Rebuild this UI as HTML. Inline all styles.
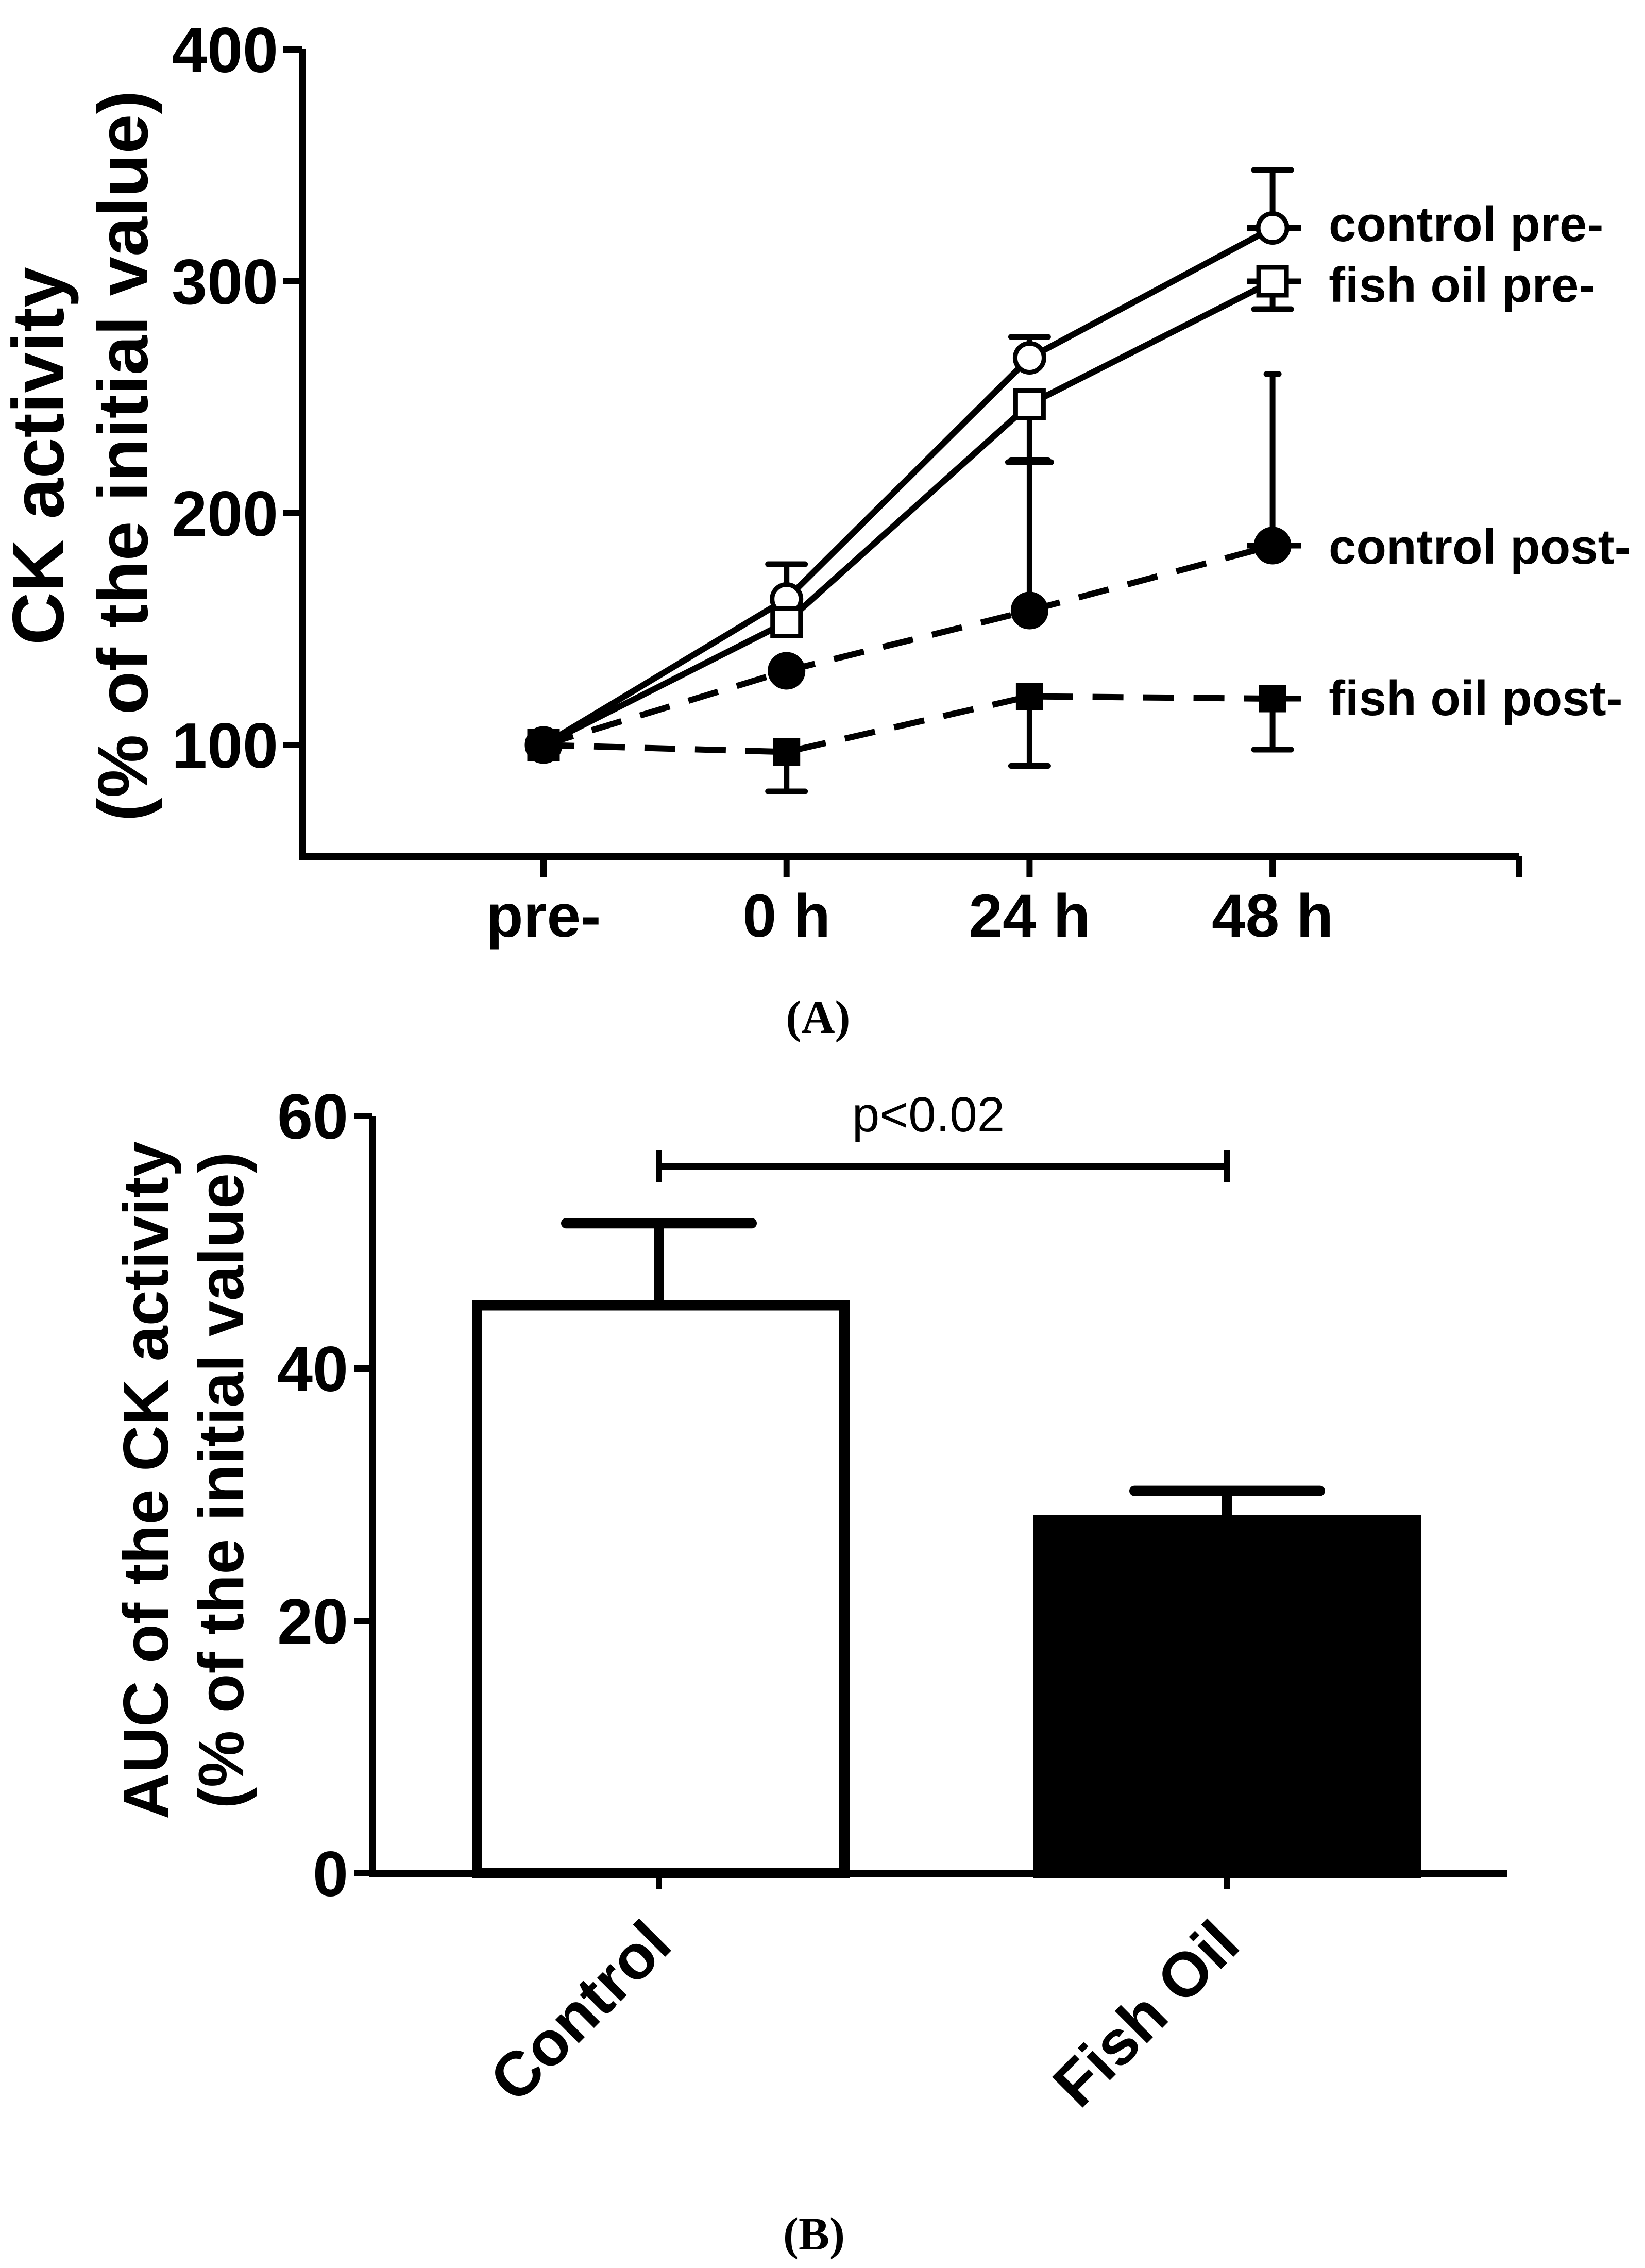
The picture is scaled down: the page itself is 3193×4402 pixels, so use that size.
<!DOCTYPE html>
<html><head><meta charset="utf-8"><style>
html,body{margin:0;padding:0;background:#fff;}
svg{display:block;font-family:"Liberation Sans",Arial,sans-serif;}
</style></head><body>
<svg id="fig" width="3193" height="4402" viewBox="0 0 3193 4402" xmlns="http://www.w3.org/2000/svg">
<g id="chartA"></g>
<g id="chartB"></g>
<text x="1588" y="2004" font-family="Liberation Serif,serif" font-weight="bold" font-size="90" text-anchor="middle">(A)</text>
<text x="1580" y="4366" font-family="Liberation Serif,serif" font-weight="bold" font-size="90" text-anchor="middle">(B)</text>
</svg>
<script>
// ---------- Chart A data ----------
const timeLabels = ["pre-", "0 h", "24 h", "48 h"];
const yTicksA = [100, 200, 300, 400];
const ctrlPre = [100, 163, 267, 323];
const ctrlPreErr = [0, 15, 9, 25];
const fishPre = [100, 153, 247, 300];
const fishPreErr = [0, 0, -24, -12];
const ctrlPost = [100, 132, 158, 186];
const ctrlPostErr = [0, 0, 64, 74];
const fishPost = [100, 97, 121, 120];
const fishPostErr = [0, -17, -30, -22];
const seriesNames = ["control pre-", "fish oil pre-", "control post-", "fish oil post-"];

// ---------- Chart B data ----------
const groups = ["Control", "Fish Oil"];
const aucMeans = [45.0, 28.0];
const aucErr = [6.5, 2.3];
const yTicksB = [0, 20, 40, 60];
const pLabel = "p<0.02";

const NS = "http://www.w3.org/2000/svg";
function mk(parent, tag, attrs) {
  const e = document.createElementNS(NS, tag);
  for (const k in attrs) e.setAttribute(k, attrs[k]);
  parent.appendChild(e);
  return e;
}

// ===== Chart A =====
const A = document.getElementById('chartA');
const ax0 = 587, ax1 = 2948, ayTop = 96, ayBot = 1662;
const xA = i => 1055 + i * 471.7;
const yA = v => 96 + (400 - v) * 4.5;

let e = mk(A, 'path', {d: `M${ax0},${ayTop} V${ayBot} H${ax1}`, fill: 'none', stroke: '#000', 'stroke-width': 14});


mk(A, 'line', {x1: ax1, y1: ayBot, x2: ax1, y2: 1703, stroke: '#000', 'stroke-width': 12});
yTicksA.forEach(v => {
  mk(A, 'line', {x1: 549, y1: yA(v), x2: ax0, y2: yA(v), stroke: '#000', 'stroke-width': 12});
  const t = mk(A, 'text', {x: 540, y: yA(v) + 44, 'font-size': 124, 'font-weight': 'bold', 'text-anchor': 'end'});
  t.textContent = v;
  
  
});
timeLabels.forEach((lab, i) => {
  mk(A, 'line', {x1: xA(i), y1: ayBot, x2: xA(i), y2: 1703, stroke: '#000', 'stroke-width': 12});
  const t = mk(A, 'text', {x: xA(i), y: 1818, 'font-size': 118, 'font-weight': 'bold', 'text-anchor': 'middle'});
  t.textContent = lab;
  
  
});
let yt = mk(A, 'text', {x: 0, y: 0, 'font-size': 142, 'font-weight': 'bold', 'text-anchor': 'middle', transform: 'translate(123,885) rotate(-90)'});
yt.textContent = 'CK activity';


yt = mk(A, 'text', {x: 0, y: 0, 'font-size': 138, 'font-weight': 'bold', 'text-anchor': 'middle', transform: 'translate(286,885) rotate(-90)'});
yt.textContent = '(% of the initial value)';



const seriesA = [
  {v: ctrlPre, err: ctrlPreErr, dash: null, marker: 'circle', fill: '#fff', ly: 468},
  {v: fishPre, err: fishPreErr, dash: null, marker: 'square', fill: '#fff', ly: 586},
  {v: ctrlPost, err: ctrlPostErr, dash: '60 38', marker: 'circle', fill: '#000', ly: 1094},
  {v: fishPost, err: fishPostErr, dash: '60 38', marker: 'square', fill: '#000', ly: 1388}
];
// error bars
seriesA.forEach((s, si) => {
  s.v.forEach((v, i) => {
    if (!s.err[i]) return;
    const y1 = yA(v), y2 = yA(v + s.err[i]);
    const g = mk(A, 'g', {});
    
    
    mk(g, 'line', {x1: xA(i), y1: y1, x2: xA(i), y2: y2, stroke: '#000', 'stroke-width': 11});
    const capHalf = (si === 2 && i === 3) ? 12 : (si === 2 && i === 2 ? 42 : 36);
    mk(g, 'line', {x1: xA(i) - capHalf, y1: y2, x2: xA(i) + capHalf, y2: y2, stroke: '#000', 'stroke-width': 11, 'stroke-linecap': 'round'});
  });
});
// lines + markers + legend
seriesA.forEach((s, si) => {
  const pts = s.v.map((v, i) => `${xA(i)},${yA(v)}`).join(' ');
  const pl = mk(A, 'polyline', {points: pts, fill: 'none', stroke: '#000', 'stroke-width': 12});
  if (s.dash) pl.setAttribute('stroke-dasharray', s.dash);
  
  
  const last = s.v.length - 1;
  mk(A, 'line', {x1: 2420, y1: yA(s.v[last]), x2: 2525, y2: yA(s.v[last]), stroke: '#000', 'stroke-width': 11});
  s.v.forEach((v, i) => {
    let m;
    if (s.marker === 'circle') m = mk(A, 'circle', {cx: xA(i), cy: yA(v), r: s.fill === '#fff' ? 28 : 32, fill: s.fill, stroke: '#000', 'stroke-width': 9});
    else {
      const h = s.fill === '#fff' ? 27 : 22;
      m = mk(A, 'rect', {x: xA(i) - h, y: yA(v) - h, width: 2 * h, height: 2 * h, fill: s.fill, stroke: '#000', 'stroke-width': 9});
    }
    
    
  });
  const t = mk(A, 'text', {x: 2579, y: s.ly, 'font-size': 96, 'font-weight': 'bold'});
  t.textContent = seriesNames[si];
  
  
});

// ===== Chart B =====
const B = document.getElementById('chartB');
const bx0 = 723, bx1 = 2926, by0 = 3636;
const yB = v => 3636 - v * 24.5;
const xB = i => 1279 + i * 1103;
e = mk(B, 'path', {d: `M${bx0},${yB(60)} V${by0} H${bx1}`, fill: 'none', stroke: '#000', 'stroke-width': 14});


yTicksB.forEach(v => {
  mk(B, 'line', {x1: 688, y1: yB(v), x2: bx0, y2: yB(v), stroke: '#000', 'stroke-width': 12});
  const t = mk(B, 'text', {x: 676, y: yB(v) + 44, 'font-size': 124, 'font-weight': 'bold', 'text-anchor': 'end'});
  t.textContent = v;
  
  
});
yt = mk(B, 'text', {x: 0, y: 0, 'font-size': 124, 'font-weight': 'bold', 'text-anchor': 'middle', transform: 'translate(326,2873) rotate(-90)'});
yt.textContent = 'AUC of the CK activity';


yt = mk(B, 'text', {x: 0, y: 0, 'font-size': 124, 'font-weight': 'bold', 'text-anchor': 'middle', transform: 'translate(472,2873) rotate(-90)'});
yt.textContent = '(% of the initial value)';



groups.forEach((g, i) => {
  const cx = xB(i);
  const bx = i === 0 ? 916 : 2005;
  const w = i === 0 ? 733 : 754;
  const filled = i === 1;
  mk(B, 'line', {x1: cx, y1: yB(aucMeans[i]), x2: cx, y2: yB(aucMeans[i] + aucErr[i]), stroke: '#000', 'stroke-width': 20});
  mk(B, 'line', {x1: cx - 180, y1: yB(aucMeans[i] + aucErr[i]), x2: cx + 180, y2: yB(aucMeans[i] + aucErr[i]), stroke: '#000', 'stroke-width': 20, 'stroke-linecap': 'round'});
  const r = mk(B, 'rect', {x: bx + 10, y: yB(aucMeans[i]), width: w - 20, height: by0 - yB(aucMeans[i]), fill: filled ? '#000' : '#fff', stroke: '#000', 'stroke-width': 20});
  
  
  mk(B, 'line', {x1: cx, y1: by0, x2: cx, y2: 3667, stroke: '#000', 'stroke-width': 12});
  const t = mk(B, 'text', {x: 0, y: 0, 'font-size': 122, 'font-weight': 'bold', 'text-anchor': 'end', transform: `translate(${cx + 30},${3780}) rotate(-45)`});
  t.textContent = g;
  
  
});
// significance bracket
const sg = mk(B, 'g', {});


mk(sg, 'line', {x1: xB(0), y1: 2264, x2: xB(1), y2: 2264, stroke: '#000', 'stroke-width': 12});
mk(sg, 'line', {x1: xB(0), y1: 2233, x2: xB(0), y2: 2295, stroke: '#000', 'stroke-width': 12});
mk(sg, 'line', {x1: xB(1), y1: 2233, x2: xB(1), y2: 2295, stroke: '#000', 'stroke-width': 12});
const pt = mk(B, 'text', {x: 1802, y: 2196, 'font-size': 96, 'text-anchor': 'middle'});
pt.textContent = pLabel;


</script>
</body></html>
